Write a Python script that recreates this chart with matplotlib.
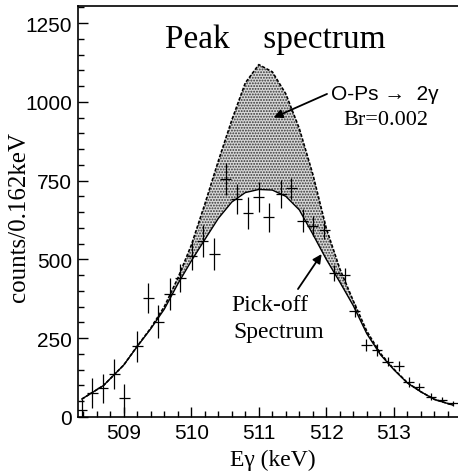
import matplotlib
matplotlib.use("Agg")
import matplotlib.pyplot as plt
from matplotlib.ticker import MultipleLocator

# measured spectrum (bin width 0.162 keV)
energy = [508.38, 508.53, 508.69, 508.86, 509.01, 509.20, 509.36, 509.51, 509.68, 509.84,
          510.01, 510.17, 510.34, 510.51, 510.67, 510.84, 511.00, 511.15, 511.33, 511.48,
          511.65, 511.80, 511.97, 512.12, 512.27, 512.42, 512.59, 512.75, 512.91, 513.07,
          513.22, 513.37, 513.55, 513.71, 513.87]
counts = [22, 76, 91, 136, 59, 224, 378, 302, 390, 441,
          510, 559, 517, 755, 692, 647, 699, 633, 707, 725,
          623, 607, 594, 457, 450, 337, 229, 214, 176, 163,
          110, 96, 64, 55, 44]
errors = [35, 47, 46, 48, 45, 48, 48, 52, 50, 45,
          45, 50, 50, 50, 48, 50, 48, 47, 44, 34,
          37, 32, 29, 24, 24, 21, 19, 19, 14, 16,
          16, 13, 11, 8, 8]

# fitted curves
curve_e = [508.38, 508.7, 509.0, 509.2, 509.4, 509.6, 509.8, 510.0, 510.2, 510.4,
           510.6, 510.8, 511.0, 511.2, 511.4, 511.6, 511.8, 512.0, 512.2, 512.4,
           512.6, 512.8, 513.0, 513.2, 513.4, 513.6, 513.87]
pickoff = [57, 100, 165, 224, 280, 342, 422, 495, 563, 630,
           682, 712, 722, 720, 700, 657, 580, 500, 428, 353,
           264, 198, 150, 108, 80, 56, 38]
total = [57, 100, 165, 225, 282, 350, 440, 545, 675, 812,
         942, 1060, 1118, 1095, 1025, 915, 770, 598, 470, 368,
         272, 202, 152, 109, 80, 56, 38]

plt.rcParams["hatch.linewidth"] = 0.9

fig = plt.figure(figsize=(4.58, 4.77), dpi=100)
ax = fig.add_axes([0.170, 0.1237, 0.830, 0.8616])

ax.fill_between(curve_e, pickoff, total, facecolor="#d8d8d8", edgecolor="#333333",
                hatch="......", linewidth=0)
ax.plot(curve_e, total, color="black", lw=1.2, dashes=(2, 1))
ax.plot(curve_e, pickoff, color="black", lw=1.0)
ax.errorbar(energy, counts, yerr=errors, xerr=0.081, fmt="none", ecolor="black",
            elinewidth=0.9, capsize=0)

ax.set_xlim(508.32, 513.95)
ax.set_ylim(0, 1304)
ax.xaxis.set_major_locator(MultipleLocator(1))
ax.xaxis.set_minor_locator(MultipleLocator(0.2))
ax.yaxis.set_major_locator(MultipleLocator(250))
ax.yaxis.set_minor_locator(MultipleLocator(50))
ax.tick_params(which="both", direction="in", top=False, right=False, width=1.0)
ax.tick_params(which="major", length=7, labelsize=15, pad=4)
ax.tick_params(which="minor", length=4)
for lab in ax.get_xticklabels() + ax.get_yticklabels():
    lab.set_family("Liberation Sans")
ax.spines["right"].set_visible(False)
for s in ["left", "bottom", "top"]:
    ax.spines[s].set_linewidth(1.2)

ax.set_xlabel("E\u03b3 (keV)", family="Liberation Serif", fontsize=17)
ax.set_ylabel("counts/0.162keV", family="Liberation Serif", fontsize=18)
ax.xaxis.set_label_coords(0.512, -0.078)
ax.yaxis.set_label_coords(-0.125, 0.49)

ax.text(511.25, 1199, "Peak    spectrum", family="Liberation Serif", fontsize=24,
        ha="center", va="center")
ax.text(512.87, 1025, "O-Ps \u2192  2\u03b3", family="Liberation Sans", fontsize=15,
        ha="center", va="center")
ax.text(512.88, 945, "Br=0.002", family="Liberation Serif", fontsize=16,
        ha="center", va="center")
ax.text(511.16, 358, "Pick-off", family="Liberation Serif", fontsize=17,
        ha="center", va="center")
ax.text(511.3, 270, "Spectrum", family="Liberation Serif", fontsize=17,
        ha="center", va="center")

ax.annotate("", xy=(511.22, 950), xytext=(512.01, 1025),
            arrowprops=dict(arrowstyle="-|>", color="black", lw=1.3,
                            mutation_scale=13, shrinkA=0, shrinkB=0))
ax.annotate("", xy=(511.93, 517), xytext=(511.58, 406),
            arrowprops=dict(arrowstyle="-|>", color="black", lw=1.3,
                            mutation_scale=13, shrinkA=0, shrinkB=0))

plt.savefig("out.png", dpi=100)
